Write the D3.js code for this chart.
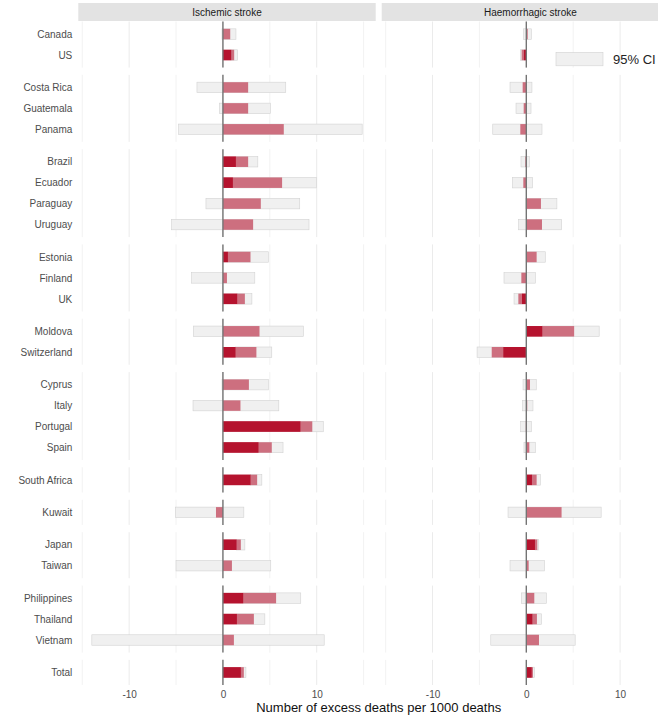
<!DOCTYPE html>
<html>
<head>
<meta charset="utf-8" />
<title>Excess stroke deaths</title>
<script src="https://d3js.org/d3.v7.min.js"></script>
<style>
  body { margin: 0; background: #fff; }
  svg text { font-family: "Liberation Sans", Arial, sans-serif; }
  .tick text { fill: #4d4d4d; font-size: 10px; }
</style>
</head>
<body>
<svg width="658" height="720"></svg>
<script>

// country groups (one facet row each)
var groups = [
    ["Canada", "US"],
    ["Costa Rica", "Guatemala", "Panama"],
    ["Brazil", "Ecuador", "Paraguay", "Uruguay"],
    ["Estonia", "Finland", "UK"],
    ["Moldova", "Switzerland"],
    ["Cyprus", "Italy", "Portugal", "Spain"],
    ["South Africa"],
    ["Kuwait"],
    ["Japan", "Taiwan"],
    ["Philippines", "Thailand", "Vietnam"],
    ["Total"]
];
var countries = [].concat.apply([], groups);

var strokeTypes = ["Ischemic stroke", "Haemorrhagic stroke"];

// excess deaths per 1000 deaths, same order as countries
var ischEst = [0.78, 1.2, 2.69, 2.69, 6.49, 2.69, 6.31, 4.04, 3.22, 2.94, 0.43, 2.34, 3.9, 3.57, 2.77, 1.87, 9.53, 5.21, 3.65, -0.74, 1.91, 0.96, 5.67, 3.3, 1.17, 2.23];
var ischLo  = [-0.1, 0.88, -2.77, -0.36, -4.72, 1.38, 1.06, -1.81, -5.47, 0.53, -3.34, 1.52, -3.16, 1.34, -0.1, -3.19, 8.26, 3.79, 2.94, -5.07, 1.45, -5.0, 2.16, 1.49, -13.98, 1.91];
var ischHi  = [1.39, 1.55, 6.7, 5.06, 14.85, 3.72, 10.0, 8.19, 9.18, 4.85, 3.4, 3.09, 8.57, 5.21, 4.85, 5.96, 10.7, 6.41, 4.15, 2.23, 2.34, 5.1, 8.3, 4.47, 10.8, 2.45];

var haemEst = [0.15, -0.5, -0.39, -0.28, -0.64, -0.1, -0.32, 1.56, 1.67, 1.1, -0.53, -0.85, 5.1, -3.69, 0.39, 0.1, -0.05, 0.32, 1.1, 3.76, 1.17, 0.25, 0.85, 1.13, 1.35, 0.71];
var haemLo  = [-0.28, -0.64, -1.74, -1.1, -3.58, -0.57, -1.49, -0.05, -0.82, -0.02, -2.38, -1.31, 1.7, -5.25, -0.35, -0.39, -0.6, -0.25, 0.6, -1.95, 0.92, -1.74, -0.53, 0.64, -3.79, 0.57];
var haemHi  = [0.53, -0.25, 0.6, 0.5, 1.67, 0.32, 0.67, 3.26, 3.76, 2.02, 0.96, -0.46, 7.77, -2.45, 1.06, 0.71, 0.53, 0.96, 1.49, 7.98, 1.28, 1.95, 2.13, 1.63, 5.21, 0.85];

var majorTicks = [-10, 0, 10];
var minorTicks = [-15, -5, 5, 15];

var series = [
    { est: ischEst, lo: ischLo, hi: ischHi },
    { est: haemEst, lo: haemLo, hi: haemHi }
];

var svg = d3.select("svg");

var panelLeft = [78.3, 381.7],
    panelW = 297.4,
    stripTop = 3, stripH = 18,
    panelTop = 21.5, panelBottom = 685,
    gap = 7.3;

var colCI = "#f0f0f0", colCIline = "#d2d2d2", colEst = "#cd6f7f", colSig = "#b5132e";

// x scale shared by both facets, 5% expansion like ggplot
var allVals = ischLo.concat(ischHi, haemLo, haemHi);
var lo = d3.min(allVals), hi = d3.max(allVals), pad = (hi - lo) * 0.05;
var x = d3.scaleLinear().domain([lo - pad, hi + pad]).range([0, panelW]);

// row step: every group panel gets n - 1 + 2*0.6 units
var units = d3.sum(groups, function (g) { return g.length - 1 + 1.2; });
var step = (panelBottom - panelTop - gap * (groups.length - 1)) / units;
var barH = step * 0.5;

// strips
strokeTypes.forEach(function (name, f) {
    svg.append("rect")
        .attr("x", panelLeft[f]).attr("y", stripTop)
        .attr("width", panelW).attr("height", stripH)
        .attr("fill", "#e3e3e3");
    svg.append("text")
        .attr("x", panelLeft[f] + panelW / 2).attr("y", stripTop + stripH / 2)
        .attr("dy", "0.35em")
        .attr("text-anchor", "middle")
        .style("font-size", "10px")
        .attr("fill", "#1a1a1a")
        .text(name);
});

var offset = 0, yPanel = panelTop;
groups.forEach(function (grp, gi) {
    var h = (grp.length - 1 + 1.2) * step;
    var y = d3.scalePoint().domain(grp).range([0, h]).padding(0.6);

    strokeTypes.forEach(function (name, f) {
        var s = series[f];
        var g = svg.append("g")
            .attr("transform", "translate(" + panelLeft[f] + "," + yPanel + ")");

        g.selectAll(".minor").data(minorTicks).enter().append("line")
            .attr("x1", x).attr("x2", x).attr("y1", 0).attr("y2", h)
            .attr("stroke", "#efefef").attr("stroke-width", 0.8);
        g.selectAll(".major").data(majorTicks).enter().append("line")
            .attr("x1", x).attr("x2", x).attr("y1", 0).attr("y2", h)
            .attr("stroke", "#ebebeb").attr("stroke-width", 1);

        var rows = grp.map(function (c, i) {
            var k = offset + i;
            return { c: c, est: s.est[k], lo: s.lo[k], hi: s.hi[k] };
        });

        // 95% CI
        g.selectAll(".ci").data(rows).enter().append("rect")
            .attr("x", function (d) { return x(d.lo); })
            .attr("width", function (d) { return x(d.hi) - x(d.lo); })
            .attr("y", function (d) { return y(d.c) - barH / 2; })
            .attr("height", barH)
            .attr("fill", colCI).attr("stroke", colCIline).attr("stroke-width", 0.6);

        // point estimate
        g.selectAll(".est").data(rows).enter().append("rect")
            .attr("x", function (d) { return x(Math.min(0, d.est)); })
            .attr("width", function (d) { return Math.abs(x(d.est) - x(0)); })
            .attr("y", function (d) { return y(d.c) - barH / 2; })
            .attr("height", barH)
            .attr("fill", colEst);

        // part of the estimate that is significant (CI bound closest to 0)
        var sig = rows.filter(function (d) { return d.lo > 0 || d.hi < 0; });
        g.selectAll(".sig").data(sig).enter().append("rect")
            .attr("x", function (d) { return d.lo > 0 ? x(0) : x(d.hi); })
            .attr("width", function (d) { return d.lo > 0 ? x(d.lo) - x(0) : x(0) - x(d.hi); })
            .attr("y", function (d) { return y(d.c) - barH / 2; })
            .attr("height", barH)
            .attr("fill", colSig);

        g.append("line")
            .attr("x1", x(0)).attr("x2", x(0)).attr("y1", 0).attr("y2", h)
            .attr("stroke", "#747474").attr("stroke-width", 1.4);

        if (f == 0) {
            var ya = g.append("g")
                .call(d3.axisLeft(y).tickSize(0).tickPadding(6));
            ya.select(".domain").remove();
        }
        if (gi == groups.length - 1) {
            var xa = g.append("g")
                .attr("transform", "translate(0," + h + ")")
                .call(d3.axisBottom(x).tickValues(majorTicks).tickSize(0).tickPadding(6)
                    .tickFormat(function (d) { return String(d); }));
            xa.select(".domain").remove();
        }
    });

    offset += grp.length;
    yPanel += h + gap;
});

// axis title
svg.append("text")
    .attr("x", panelLeft[0] + (panelLeft[1] + panelW - panelLeft[0]) / 2)
    .attr("y", 711.5)
    .attr("text-anchor", "middle")
    .style("font-size", "13px")
    .attr("fill", "#111")
    .text("Number of excess deaths per 1000 deaths");

// legend
svg.append("rect")
    .attr("x", 556).attr("y", 52.3).attr("width", 47).attr("height", 13.5)
    .attr("fill", colCI).attr("stroke", colCIline).attr("stroke-width", 0.6);
svg.append("text")
    .attr("x", 613).attr("y", 59).attr("dy", "0.35em")
    .style("font-size", "13px")
    .attr("fill", "#222")
    .text("95% CI");

</script>
</body>
</html>
